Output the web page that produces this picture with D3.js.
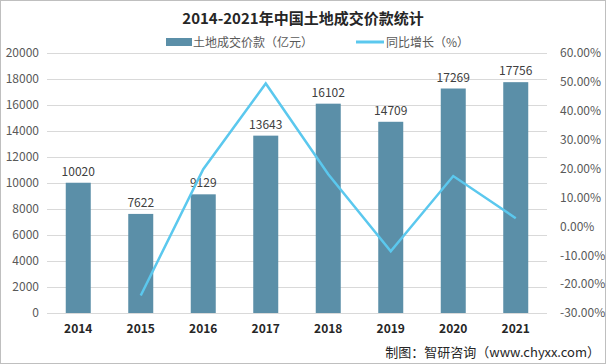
<!DOCTYPE html>
<html><head><meta charset="utf-8">
<script src="https://cdn.jsdelivr.net/npm/d3@7"></script>
<style>body{margin:0;background:#fff}svg{display:block}</style>
</head><body>
<script>
const years = ["2014","2015","2016","2017","2018","2019","2020","2021"];
const amounts = [10020, 7622, 9129, 13643, 16102, 14709, 17269, 17756];
const growth = [null, -23.93, 19.77, 49.45, 18.02, -8.65, 17.40, 2.82];
const leftTicks = [0,2000,4000,6000,8000,10000,12000,14000,16000,18000,20000];
const rightTicks = [-30,-20,-10,0,10,20,30,40,50,60];

const W=606,H=364;
const svg=d3.select("body").append("svg").attr("width",W).attr("height",H);
const font="'Noto Sans CJK SC','Noto Sans',sans-serif";
svg.append("rect").attr("x",0.5).attr("y",0.5).attr("width",W-1).attr("height",H-1).attr("fill","#fff").attr("stroke","#bfbfbf");

const x0=47,x1=547,yTop=53,yBot=313;
const x=d3.scaleBand().domain(years).range([x0,x1]).paddingInner(0.6).paddingOuter(0.3);
const xc=d3.scalePoint().domain(years).range([x0+31.25,x1-31.25]);
const yL=d3.scaleLinear().domain([0,20000]).range([yBot,yTop]);
const yR=d3.scaleLinear().domain([-30,60]).range([yBot,yTop]);

// grid
svg.append("g").selectAll("line").data(leftTicks).join("line")
 .attr("x1",x0).attr("x2",x1).attr("y1",d=>yL(d)+0.5).attr("y2",d=>yL(d)+0.5)
 .attr("stroke","#d9d9d9").attr("stroke-width",1);

// left axis
const la=svg.append("g").attr("transform",`translate(${x0-6},0)`)
 .call(d3.axisLeft(yL).tickValues(leftTicks).tickSize(0).tickPadding(0).tickFormat(d3.format("d")));
la.select(".domain").remove();
la.selectAll("text").attr("fill","#595959").style("font-family",font).style("font-size","12px").attr("x",-2);

// right axis
const ra=svg.append("g").attr("transform",`translate(${x1+13},0)`)
 .call(d3.axisRight(yR).tickValues(rightTicks).tickSize(0).tickPadding(0).tickFormat(d=>d.toFixed(2)+"%"));
ra.select(".domain").remove();
ra.selectAll("text").attr("fill","#595959").style("font-family",font).style("font-size","12px");

// bars
svg.append("g").selectAll("rect").data(years).join("rect")
 .attr("x",d=>xc(d)-12.5).attr("width",25)
 .attr("y",(d,i)=>yL(amounts[i])).attr("height",(d,i)=>yBot-yL(amounts[i]))
 .attr("fill","#5b8fa8");

// bar labels
svg.append("g").selectAll("text").data(years).join("text")
 .attr("x",d=>xc(d)).attr("y",(d,i)=>yL(amounts[i])-7)
 .attr("text-anchor","middle").attr("fill","#404040")
 .style("font-family",font).style("font-size","12px")
 .text((d,i)=>amounts[i]);

// line
const pts=years.map((d,i)=>[d,growth[i]]).filter(p=>p[1]!==null);
svg.append("path").datum(pts)
 .attr("d",d3.line().x(p=>xc(p[0])).y(p=>yR(p[1])))
 .attr("fill","none").attr("stroke","#5bc8ee").attr("stroke-width",2.5).attr("stroke-linejoin","miter");

// x labels
svg.append("g").selectAll("text").data(years).join("text")
 .attr("x",d=>xc(d)).attr("y",333)
 .attr("text-anchor","middle").attr("fill","#262626").attr("font-weight","bold")
 .style("font-family",font).style("font-size","12px").text(d=>d);

// title
svg.append("text").attr("x",303).attr("y",24).attr("text-anchor","middle")
 .attr("fill","#262626").attr("font-weight","bold")
 .style("font-family",font).style("font-size","15px")
 .text("2014-2021年中国土地成交价款统计");

// legend
svg.append("rect").attr("x",166).attr("y",38).attr("width",26).attr("height",8).attr("fill","#5b8fa8");
svg.append("text").attr("x",193).attr("y",47).attr("fill","#595959")
 .style("font-family",font).style("font-size","12px").text("土地成交价款（亿元）");
svg.append("line").attr("x1",356).attr("x2",384).attr("y1",42).attr("y2",42).attr("stroke","#5bc8ee").attr("stroke-width",3);
svg.append("text").attr("x",386).attr("y",47).attr("fill","#595959")
 .style("font-family",font).style("font-size","12px").text("同比增长（%）");

// footer
svg.append("text").attr("x",600).attr("y",357).attr("text-anchor","end").attr("fill","#262626")
 .style("font-family",font).style("font-size","13px").text("制图：智研咨询（www.chyxx.com）");
</script>
</body></html>
